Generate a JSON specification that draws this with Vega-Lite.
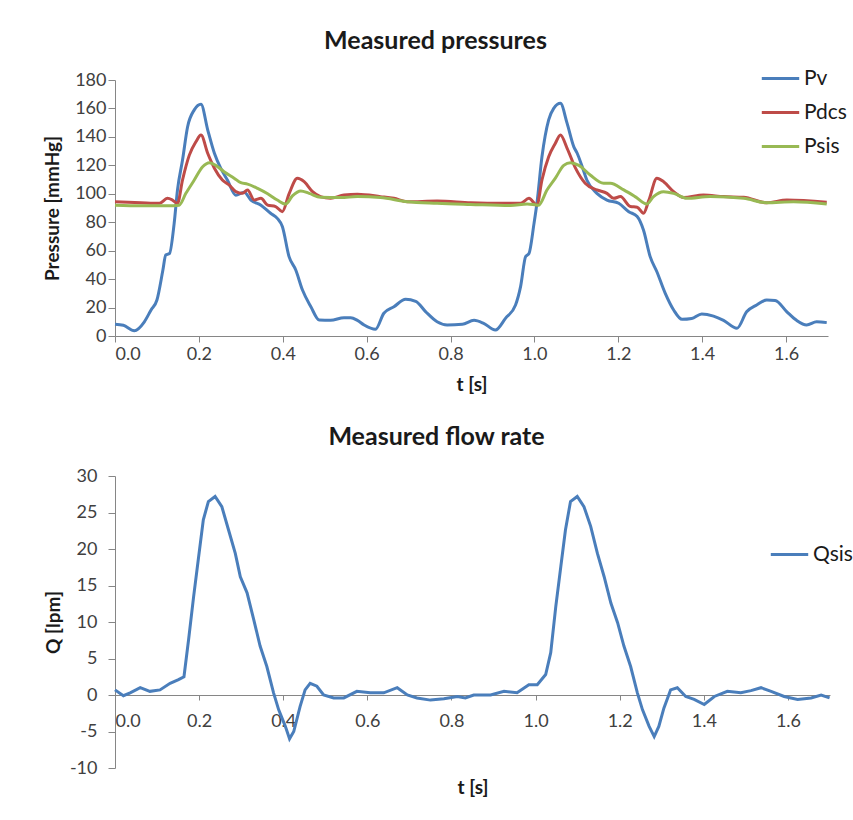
{
  "$schema": "https://vega.github.io/schema/vega-lite/v6.json",
  "padding": {"left": 43, "top": 29, "right": 0, "bottom": 0},
  "background": "white",
  "config": {
    "font": "Lato",
    "view": {"stroke": null},
    "axis": {"grid": false, "domainColor": "#868686", "tickColor": "#868686", "labelColor": "#404040", "labelFontSize": 18, "labelFont": "Lato", "titleFont": "Lato", "titleFontSize": 19, "titleColor": "#1a1a1a", "titleFontWeight": "bold"},
    "title": {"fontSize": 25, "font": "Lato", "fontWeight": "bold", "color": "#1a1a1a"},
    "legend": {"labelFontSize": 21, "labelFont": "Lato", "labelColor": "#1a1a1a", "symbolType": "stroke", "symbolStrokeWidth": 3, "symbolSize": 1400, "padding": 0, "rowPadding": 3, "labelOffset": 3},
    "concat": {"spacing": 31}
  },
  "datasets": {
    "pressures": [
      {"t":0,"s":"Pv","v":8.2},{"t":0.02,"s":"Pv","v":7.5},{"t":0.046,"s":"Pv","v":3.7},{"t":0.07,"s":"Pv","v":10},{"t":0.086,"s":"Pv","v":18.3},{"t":0.1,"s":"Pv","v":25.3},{"t":0.114,"s":"Pv","v":46},{"t":0.121,"s":"Pv","v":57},{"t":0.13,"s":"Pv","v":58},{"t":0.141,"s":"Pv","v":79},{"t":0.149,"s":"Pv","v":102.7},{"t":0.161,"s":"Pv","v":123.7},{"t":0.173,"s":"Pv","v":147},{"t":0.189,"s":"Pv","v":159},{"t":0.205,"s":"Pv","v":163},{"t":0.221,"s":"Pv","v":145},{"t":0.237,"s":"Pv","v":128.5},{"t":0.252,"s":"Pv","v":118},{"t":0.268,"s":"Pv","v":109.7},{"t":0.288,"s":"Pv","v":99},{"t":0.308,"s":"Pv","v":101},{"t":0.324,"s":"Pv","v":95.6},{"t":0.348,"s":"Pv","v":92},{"t":0.371,"s":"Pv","v":86.3},{"t":0.387,"s":"Pv","v":82.7},{"t":0.399,"s":"Pv","v":77},{"t":0.415,"s":"Pv","v":55.8},{"t":0.431,"s":"Pv","v":46.4},{"t":0.447,"s":"Pv","v":32.3},{"t":0.467,"s":"Pv","v":20.6},{"t":0.487,"s":"Pv","v":11.2},{"t":0.514,"s":"Pv","v":11},{"t":0.546,"s":"Pv","v":12.9},{"t":0.562,"s":"Pv","v":12.9},{"t":0.578,"s":"Pv","v":11},{"t":0.594,"s":"Pv","v":7.7},{"t":0.621,"s":"Pv","v":4.7},{"t":0.641,"s":"Pv","v":16},{"t":0.665,"s":"Pv","v":20.6},{"t":0.693,"s":"Pv","v":25.8},{"t":0.717,"s":"Pv","v":24.4},{"t":0.741,"s":"Pv","v":17},{"t":0.768,"s":"Pv","v":10},{"t":0.792,"s":"Pv","v":7.7},{"t":0.828,"s":"Pv","v":8.2},{"t":0.856,"s":"Pv","v":11},{"t":0.879,"s":"Pv","v":8.9},{"t":0.907,"s":"Pv","v":4.2},{"t":0.931,"s":"Pv","v":12.4},{"t":0.955,"s":"Pv","v":21.8},{"t":0.967,"s":"Pv","v":34.7},{"t":0.979,"s":"Pv","v":55.8},{"t":0.987,"s":"Pv","v":58},{"t":0.999,"s":"Pv","v":79},{"t":1.006,"s":"Pv","v":93.3},{"t":1.018,"s":"Pv","v":126},{"t":1.034,"s":"Pv","v":152},{"t":1.046,"s":"Pv","v":160},{"t":1.062,"s":"Pv","v":163.6},{"t":1.078,"s":"Pv","v":149.5},{"t":1.094,"s":"Pv","v":133},{"t":1.102,"s":"Pv","v":128.5},{"t":1.114,"s":"Pv","v":119},{"t":1.125,"s":"Pv","v":109.7},{"t":1.149,"s":"Pv","v":100.3},{"t":1.173,"s":"Pv","v":95.6},{"t":1.201,"s":"Pv","v":93.3},{"t":1.225,"s":"Pv","v":87.4},{"t":1.245,"s":"Pv","v":84},{"t":1.26,"s":"Pv","v":74.5},{"t":1.276,"s":"Pv","v":55.8},{"t":1.292,"s":"Pv","v":45.2},{"t":1.312,"s":"Pv","v":30},{"t":1.332,"s":"Pv","v":18.3},{"t":1.352,"s":"Pv","v":11.7},{"t":1.375,"s":"Pv","v":12.3},{"t":1.399,"s":"Pv","v":15.5},{"t":1.427,"s":"Pv","v":14},{"t":1.451,"s":"Pv","v":11},{"t":1.483,"s":"Pv","v":5.4},{"t":1.506,"s":"Pv","v":17},{"t":1.53,"s":"Pv","v":21.8},{"t":1.554,"s":"Pv","v":25.3},{"t":1.574,"s":"Pv","v":25},{"t":1.602,"s":"Pv","v":17},{"t":1.625,"s":"Pv","v":11},{"t":1.649,"s":"Pv","v":7.7},{"t":1.673,"s":"Pv","v":10},{"t":1.697,"s":"Pv","v":9.4},
      {"t":0,"s":"Pdcs","v":94.4},{"t":0.062,"s":"Pdcs","v":93.7},{"t":0.106,"s":"Pdcs","v":93.3},{"t":0.125,"s":"Pdcs","v":96.8},{"t":0.137,"s":"Pdcs","v":95.6},{"t":0.149,"s":"Pdcs","v":93.3},{"t":0.161,"s":"Pdcs","v":109.7},{"t":0.177,"s":"Pdcs","v":127},{"t":0.193,"s":"Pdcs","v":136.6},{"t":0.205,"s":"Pdcs","v":141.3},{"t":0.221,"s":"Pdcs","v":128.5},{"t":0.237,"s":"Pdcs","v":118},{"t":0.256,"s":"Pdcs","v":109.7},{"t":0.272,"s":"Pdcs","v":106.2},{"t":0.288,"s":"Pdcs","v":101.5},{"t":0.304,"s":"Pdcs","v":100.3},{"t":0.316,"s":"Pdcs","v":102.7},{"t":0.332,"s":"Pdcs","v":95.6},{"t":0.348,"s":"Pdcs","v":96.8},{"t":0.364,"s":"Pdcs","v":92},{"t":0.383,"s":"Pdcs","v":91},{"t":0.399,"s":"Pdcs","v":87.4},{"t":0.415,"s":"Pdcs","v":100},{"t":0.435,"s":"Pdcs","v":110.9},{"t":0.451,"s":"Pdcs","v":108.5},{"t":0.471,"s":"Pdcs","v":101.5},{"t":0.49,"s":"Pdcs","v":98},{"t":0.514,"s":"Pdcs","v":96.8},{"t":0.546,"s":"Pdcs","v":99.1},{"t":0.578,"s":"Pdcs","v":99.6},{"t":0.633,"s":"Pdcs","v":98},{"t":0.665,"s":"Pdcs","v":96.8},{"t":0.697,"s":"Pdcs","v":94.4},{"t":0.768,"s":"Pdcs","v":94.9},{"t":0.848,"s":"Pdcs","v":93.7},{"t":0.927,"s":"Pdcs","v":93.3},{"t":0.967,"s":"Pdcs","v":93.3},{"t":0.987,"s":"Pdcs","v":96.8},{"t":1.006,"s":"Pdcs","v":92},{"t":1.018,"s":"Pdcs","v":109.7},{"t":1.034,"s":"Pdcs","v":126},{"t":1.05,"s":"Pdcs","v":135.5},{"t":1.062,"s":"Pdcs","v":141.3},{"t":1.078,"s":"Pdcs","v":132},{"t":1.098,"s":"Pdcs","v":118},{"t":1.121,"s":"Pdcs","v":107.4},{"t":1.149,"s":"Pdcs","v":102.7},{"t":1.173,"s":"Pdcs","v":100.3},{"t":1.189,"s":"Pdcs","v":96.8},{"t":1.205,"s":"Pdcs","v":98},{"t":1.229,"s":"Pdcs","v":91},{"t":1.245,"s":"Pdcs","v":90.6},{"t":1.26,"s":"Pdcs","v":86.3},{"t":1.273,"s":"Pdcs","v":95.6},{"t":1.292,"s":"Pdcs","v":110.9},{"t":1.308,"s":"Pdcs","v":108.5},{"t":1.332,"s":"Pdcs","v":101.5},{"t":1.356,"s":"Pdcs","v":97.4},{"t":1.403,"s":"Pdcs","v":99.1},{"t":1.451,"s":"Pdcs","v":98},{"t":1.499,"s":"Pdcs","v":97.5},{"t":1.554,"s":"Pdcs","v":93.7},{"t":1.602,"s":"Pdcs","v":95.6},{"t":1.697,"s":"Pdcs","v":94},
      {"t":0,"s":"Psis","v":92},{"t":0.062,"s":"Psis","v":91.5},{"t":0.125,"s":"Psis","v":91.5},{"t":0.153,"s":"Psis","v":92},{"t":0.169,"s":"Psis","v":100.3},{"t":0.189,"s":"Psis","v":109.7},{"t":0.209,"s":"Psis","v":119},{"t":0.225,"s":"Psis","v":121.9},{"t":0.24,"s":"Psis","v":120},{"t":0.26,"s":"Psis","v":115.5},{"t":0.284,"s":"Psis","v":111},{"t":0.3,"s":"Psis","v":107.8},{"t":0.316,"s":"Psis","v":106.8},{"t":0.34,"s":"Psis","v":103.8},{"t":0.364,"s":"Psis","v":100},{"t":0.387,"s":"Psis","v":95.6},{"t":0.407,"s":"Psis","v":92.8},{"t":0.423,"s":"Psis","v":98.5},{"t":0.443,"s":"Psis","v":102},{"t":0.463,"s":"Psis","v":100.3},{"t":0.49,"s":"Psis","v":97.5},{"t":0.538,"s":"Psis","v":97.3},{"t":0.578,"s":"Psis","v":98},{"t":0.633,"s":"Psis","v":97.3},{"t":0.697,"s":"Psis","v":94.4},{"t":0.768,"s":"Psis","v":93.3},{"t":0.848,"s":"Psis","v":92.5},{"t":0.943,"s":"Psis","v":91.7},{"t":0.983,"s":"Psis","v":92.8},{"t":1.01,"s":"Psis","v":92},{"t":1.03,"s":"Psis","v":102.7},{"t":1.05,"s":"Psis","v":111},{"t":1.07,"s":"Psis","v":120},{"t":1.086,"s":"Psis","v":121.9},{"t":1.106,"s":"Psis","v":120},{"t":1.133,"s":"Psis","v":113.2},{"t":1.165,"s":"Psis","v":107.4},{"t":1.181,"s":"Psis","v":107.4},{"t":1.213,"s":"Psis","v":102.7},{"t":1.24,"s":"Psis","v":98},{"t":1.268,"s":"Psis","v":92.8},{"t":1.284,"s":"Psis","v":98},{"t":1.308,"s":"Psis","v":101.5},{"t":1.332,"s":"Psis","v":100.3},{"t":1.363,"s":"Psis","v":96.8},{"t":1.419,"s":"Psis","v":98},{"t":1.499,"s":"Psis","v":96.8},{"t":1.554,"s":"Psis","v":93.7},{"t":1.618,"s":"Psis","v":94.4},{"t":1.697,"s":"Psis","v":92.8}
    ],
    "flow": [
      {"t":0,"s":"Qsis","v":0.7},{"t":0.02,"s":"Qsis","v":-0.1},{"t":0.036,"s":"Qsis","v":0.3},{"t":0.06,"s":"Qsis","v":1.0},{"t":0.083,"s":"Qsis","v":0.5},{"t":0.107,"s":"Qsis","v":0.7},{"t":0.131,"s":"Qsis","v":1.6},{"t":0.151,"s":"Qsis","v":2.1},{"t":0.164,"s":"Qsis","v":2.5},{"t":0.175,"s":"Qsis","v":7.6},{"t":0.187,"s":"Qsis","v":13.5},{"t":0.199,"s":"Qsis","v":19},{"t":0.21,"s":"Qsis","v":24},{"t":0.222,"s":"Qsis","v":26.5},{"t":0.238,"s":"Qsis","v":27.2},{"t":0.254,"s":"Qsis","v":25.8},{"t":0.27,"s":"Qsis","v":22.6},{"t":0.286,"s":"Qsis","v":19.4},{"t":0.298,"s":"Qsis","v":16.2},{"t":0.314,"s":"Qsis","v":14},{"t":0.33,"s":"Qsis","v":10.3},{"t":0.345,"s":"Qsis","v":6.7},{"t":0.361,"s":"Qsis","v":3.9},{"t":0.377,"s":"Qsis","v":0.3},{"t":0.389,"s":"Qsis","v":-2},{"t":0.405,"s":"Qsis","v":-4.3},{"t":0.415,"s":"Qsis","v":-6},{"t":0.425,"s":"Qsis","v":-5},{"t":0.44,"s":"Qsis","v":-1.6},{"t":0.452,"s":"Qsis","v":0.7},{"t":0.464,"s":"Qsis","v":1.6},{"t":0.48,"s":"Qsis","v":1.2},{"t":0.496,"s":"Qsis","v":0},{"t":0.52,"s":"Qsis","v":-0.4},{"t":0.544,"s":"Qsis","v":-0.4},{"t":0.575,"s":"Qsis","v":0.5},{"t":0.607,"s":"Qsis","v":0.3},{"t":0.639,"s":"Qsis","v":0.3},{"t":0.671,"s":"Qsis","v":1.0},{"t":0.695,"s":"Qsis","v":0},{"t":0.718,"s":"Qsis","v":-0.4},{"t":0.75,"s":"Qsis","v":-0.7},{"t":0.782,"s":"Qsis","v":-0.5},{"t":0.814,"s":"Qsis","v":-0.2},{"t":0.833,"s":"Qsis","v":-0.4},{"t":0.853,"s":"Qsis","v":0},{"t":0.893,"s":"Qsis","v":0},{"t":0.925,"s":"Qsis","v":0.5},{"t":0.956,"s":"Qsis","v":0.3},{"t":0.984,"s":"Qsis","v":1.4},{"t":1.004,"s":"Qsis","v":1.4},{"t":1.024,"s":"Qsis","v":2.8},{"t":1.036,"s":"Qsis","v":5.8},{"t":1.048,"s":"Qsis","v":12.1},{"t":1.06,"s":"Qsis","v":17.6},{"t":1.071,"s":"Qsis","v":22.6},{"t":1.083,"s":"Qsis","v":26.5},{"t":1.099,"s":"Qsis","v":27.2},{"t":1.115,"s":"Qsis","v":25.8},{"t":1.131,"s":"Qsis","v":23.1},{"t":1.147,"s":"Qsis","v":19.4},{"t":1.163,"s":"Qsis","v":16.2},{"t":1.179,"s":"Qsis","v":12.6},{"t":1.195,"s":"Qsis","v":9.9},{"t":1.21,"s":"Qsis","v":6.7},{"t":1.226,"s":"Qsis","v":3.9},{"t":1.242,"s":"Qsis","v":0.3},{"t":1.254,"s":"Qsis","v":-2},{"t":1.27,"s":"Qsis","v":-4.3},{"t":1.282,"s":"Qsis","v":-5.7},{"t":1.293,"s":"Qsis","v":-4.3},{"t":1.305,"s":"Qsis","v":-1.8},{"t":1.321,"s":"Qsis","v":0.7},{"t":1.337,"s":"Qsis","v":1.0},{"t":1.357,"s":"Qsis","v":-0.2},{"t":1.377,"s":"Qsis","v":-0.6},{"t":1.401,"s":"Qsis","v":-1.3},{"t":1.425,"s":"Qsis","v":-0.2},{"t":1.456,"s":"Qsis","v":0.5},{"t":1.488,"s":"Qsis","v":0.3},{"t":1.512,"s":"Qsis","v":0.6},{"t":1.536,"s":"Qsis","v":1.0},{"t":1.56,"s":"Qsis","v":0.5},{"t":1.591,"s":"Qsis","v":-0.2},{"t":1.623,"s":"Qsis","v":-0.6},{"t":1.655,"s":"Qsis","v":-0.4},{"t":1.679,"s":"Qsis","v":0},{"t":1.699,"s":"Qsis","v":-0.4}
    ]
  },
  "vconcat": [
    {
      "title": {"text": "Measured pressures", "dx": -36, "offset": 4},
      "width": 713,
      "height": 256,
      "data": {"name": "pressures"},
      "mark": {"type": "line", "strokeWidth": 3, "interpolate": "monotone"},
      "encoding": {
        "x": {"field": "t", "type": "quantitative", "scale": {"domain": [0, 1.7], "nice": false},
          "axis": {"title": "t [s]", "values": [0, 0.2, 0.4, 0.6, 0.8, 1.0, 1.2, 1.4, 1.6], "format": ".1f", "tickSize": 6, "labelPadding": 3, "titlePadding": 12}},
        "y": {"field": "v", "type": "quantitative", "scale": {"domain": [0, 180], "nice": false},
          "axis": {"title": "Pressure [mmHg]", "values": [0, 20, 40, 60, 80, 100, 120, 140, 160, 180], "tickSize": 7, "labelPadding": 2, "titlePadding": 12}},
        "color": {"field": "s", "type": "nominal", "scale": {"domain": ["Pv", "Pdcs", "Psis"], "range": ["#4A7EBB", "#BE4B48", "#98B954"]},
          "legend": {"title": null, "orient": "none", "legendX": 645, "legendY": -22}}
      }
    },
    {
      "title": {"text": "Measured flow rate", "dx": -36, "offset": 17},
      "width": 715,
      "height": 292,
      "data": {"name": "flow"},
      "mark": {"type": "line", "strokeWidth": 3},
      "encoding": {
        "x": {"field": "t", "type": "quantitative", "scale": {"domain": [0, 1.7], "nice": false},
          "axis": {"title": "t [s]", "values": [0, 0.2, 0.4, 0.6, 0.8, 1.0, 1.2, 1.4, 1.6], "format": ".1f", "offset": -73, "tickSize": 5, "labelPadding": 12, "titlePadding": 48}},
        "y": {"field": "v", "type": "quantitative", "scale": {"domain": [-10, 30], "nice": false},
          "axis": {"title": "Q [lpm]", "values": [-10, -5, 0, 5, 10, 15, 20, 25, 30], "labelExpr": "'' + datum.value", "tickSize": 7, "labelPadding": 11, "titlePadding": 6}},
        "color": {"field": "s", "type": "nominal", "scale": {"domain": ["Qsis"], "range": ["#4A7EBB"]},
          "legend": {"title": null, "orient": "none", "legendX": 654, "legendY": 58}}
      }
    }
  ],
  "resolve": {"scale": {"color": "independent"}, "legend": {"color": "independent"}}
}
